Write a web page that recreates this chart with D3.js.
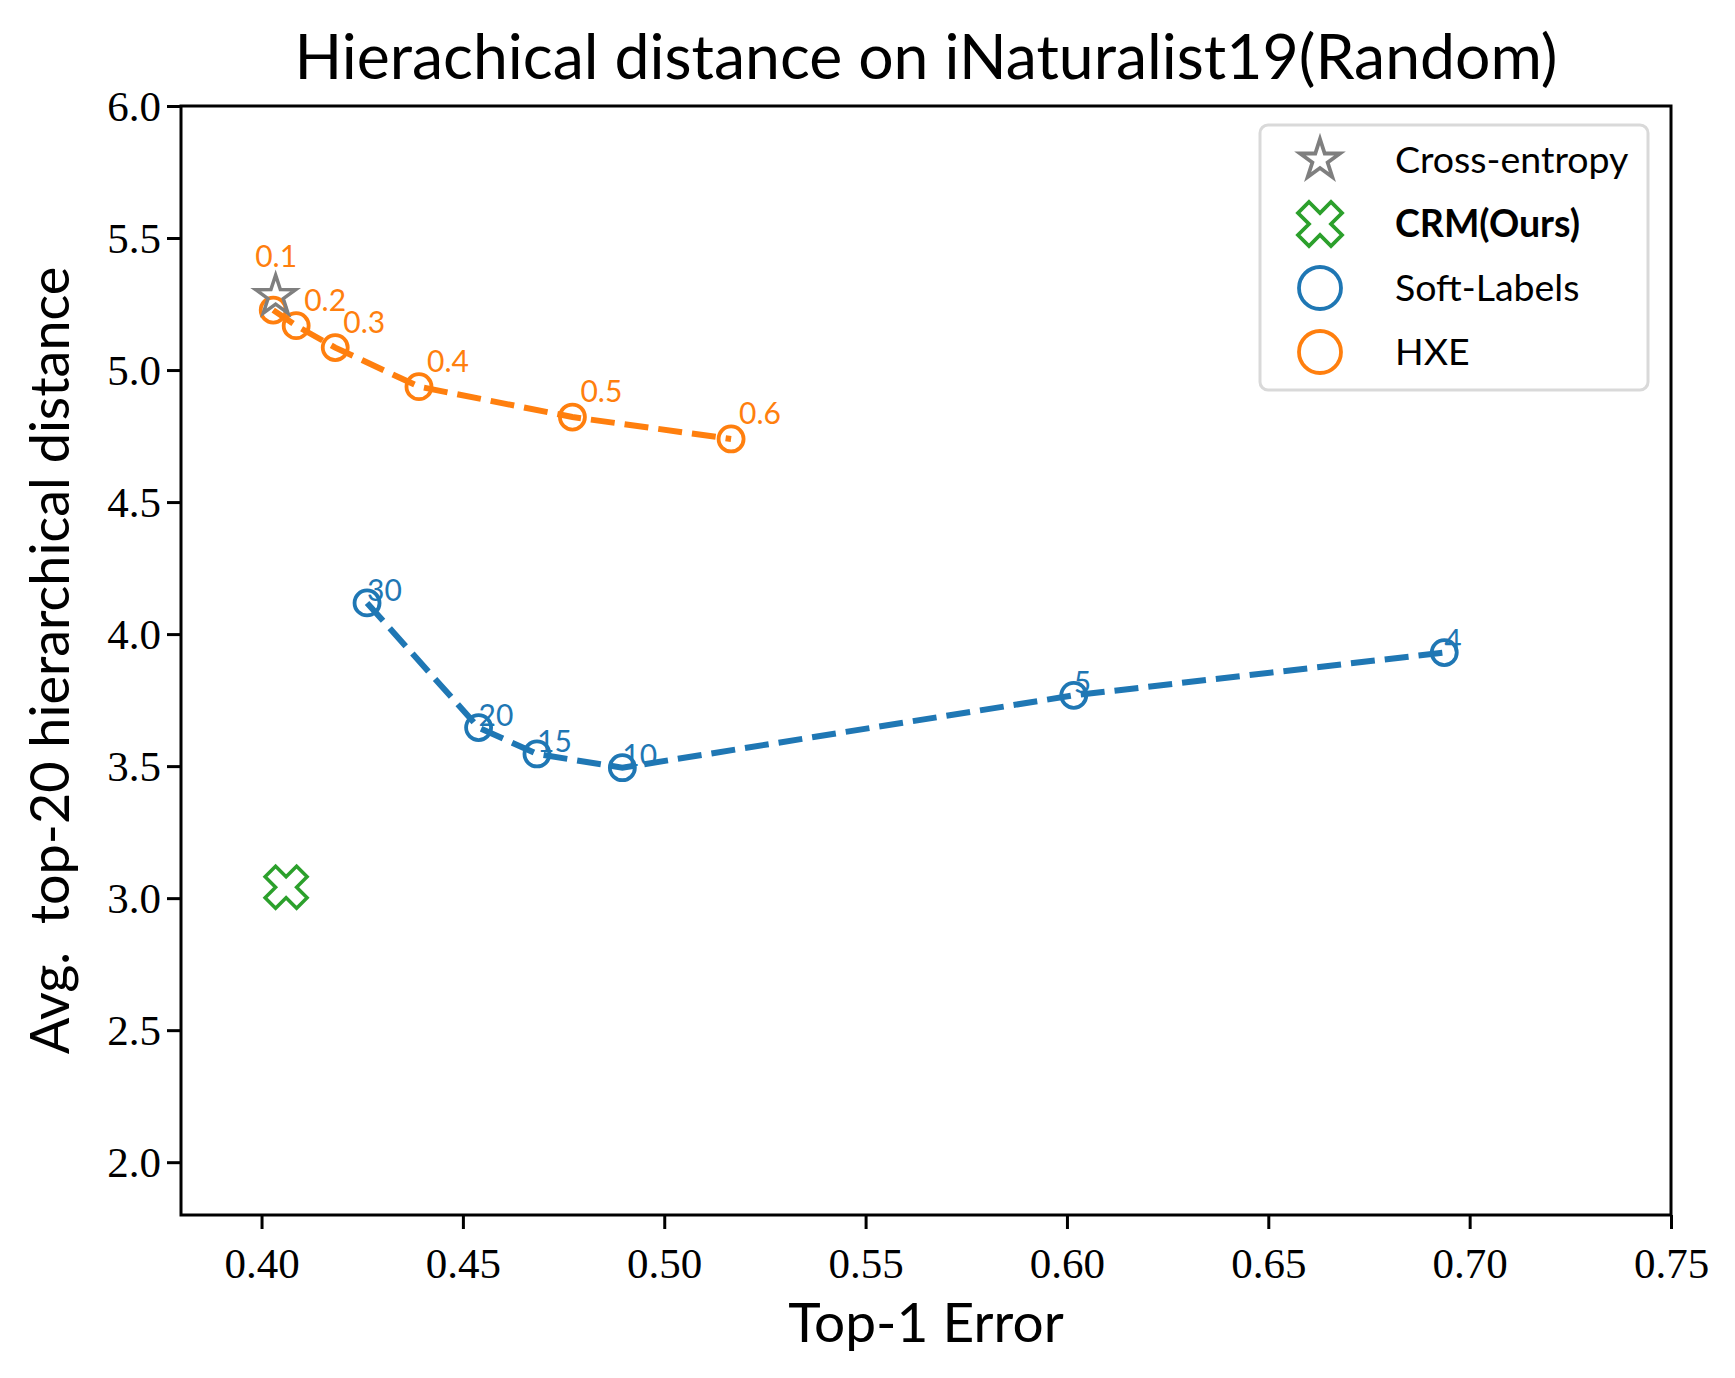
<!DOCTYPE html>
<html>
<head>
<meta charset="utf-8">
<style>
  body { margin: 0; background: #fff; }
  text { font-family: Lato, "Open Sans", sans-serif; }
  .tick text { font-family: "Liberation Serif", "DejaVu Serif", serif; }
</style>
</head>
<body>
<script src="https://d3js.org/d3.v7.min.js"></script>
<script>
// data
var ceX = [0.4035], ceY = [5.28];
var crmX = [0.4061], crmY = [3.041];

var softK = ["30", "20", "15", "10", "5", "4"];
var softX = [0.4262, 0.4539, 0.4684, 0.4896, 0.6017, 0.6937];
var softY = [4.118, 3.646, 3.546, 3.494, 3.768, 3.930];

var hxeK = ["0.1", "0.2", "0.3", "0.4", "0.5", "0.6"];
var hxeX = [0.4029, 0.4086, 0.4183, 0.4391, 0.4772, 0.5166];
var hxeY = [5.227, 5.168, 5.085, 4.937, 4.822, 4.739];

var xTicks = [0.40, 0.45, 0.50, 0.55, 0.60, 0.65, 0.70, 0.75];
var yTicks = [2.0, 2.5, 3.0, 3.5, 4.0, 4.5, 5.0, 5.5, 6.0];

var W = 1735, H = 1378;
var pL = 181, pR = 1671, pT = 106, pB = 1215;

var blue = "#1f77b4", orange = "#ff7f0e", green = "#2ca02c", gray = "#7f7f7f";

var svg = d3.select("body").append("svg").attr("width", W).attr("height", H);

var x = d3.scaleLinear().domain([0.38, 0.75]).range([pL, pR]);
var y = d3.scaleLinear().domain([1.8, 6.0]).range([pB, pT]);

// custom marker shapes (size = outer radius here)
var starType = {
  draw: function(ctx, r) {
    var ri = r * 0.382;
    for (var i = 0; i < 10; i++) {
      var a = -Math.PI / 2 + i * Math.PI / 5, rr = i % 2 ? ri : r;
      var px = rr * Math.cos(a), py = rr * Math.sin(a);
      if (i === 0) ctx.moveTo(px, py); else ctx.lineTo(px, py);
    }
    ctx.closePath();
  }
};
var xType = {
  draw: function(ctx, s) {
    var pts = [[0.25,0],[0.5,0.25],[0.75,0],[1,0.25],[0.75,0.5],[1,0.75],
               [0.75,1],[0.5,0.75],[0.25,1],[0,0.75],[0.25,0.5],[0,0.25]];
    pts.forEach(function(p, i) {
      var px = (p[0] - 0.5) * s, py = (p[1] - 0.5) * s;
      if (i === 0) ctx.moveTo(px, py); else ctx.lineTo(px, py);
    });
    ctx.closePath();
  }
};
var circType = {
  draw: function(ctx, r) { ctx.moveTo(r, 0); ctx.arc(0, 0, r, 0, 2 * Math.PI); }
};

// axes
var xAxis = d3.axisBottom(x).tickValues(xTicks).tickFormat(d3.format(".2f")).tickSizeOuter(0).tickSize(14).tickPadding(12);
var yAxis = d3.axisLeft(y).tickValues(yTicks).tickFormat(d3.format(".1f")).tickSizeOuter(0).tickSize(14).tickPadding(6);

var gx = svg.append("g").attr("transform", "translate(0," + pB + ")").call(xAxis);
var gy = svg.append("g").attr("transform", "translate(" + pL + ",0)").call(yAxis);
[gx, gy].forEach(function(g) {
  g.select(".domain").remove();
  g.selectAll(".tick line").attr("stroke", "#000").attr("stroke-width", 3);
  g.selectAll(".tick text").attr("fill", "#000").attr("font-size", 43);
});
gx.selectAll(".tick text").attr("dy", "0.85em");
gy.selectAll(".tick text").attr("dy", "0.34em");

svg.append("rect").attr("x", pL).attr("y", pT)
  .attr("width", pR - pL).attr("height", pB - pT)
  .attr("fill", "none").attr("stroke", "#000").attr("stroke-width", 3);

// lines
var line = d3.line().x(function(d) { return x(d[0]); }).y(function(d) { return y(d[1]); });
var series = [
  { k: softK, xs: softX, ys: softY, c: blue, dx: 0, dy: -2 },
  { k: hxeK, xs: hxeX, ys: hxeY, c: orange, dx: 8, dy: -15 }
];
series.forEach(function(s) {
  var pts = s.xs.map(function(v, i) { return [v, s.ys[i]]; });
  svg.append("path").attr("d", line(pts)).attr("fill", "none")
    .attr("stroke", s.c).attr("stroke-width", 6).attr("stroke-dasharray", "24,10");
  svg.append("g").selectAll("path").data(pts).enter().append("path")
    .attr("d", d3.symbol().type(circType).size(12.5))
    .attr("transform", function(d) { return "translate(" + x(d[0]) + "," + y(d[1]) + ")"; })
    .attr("fill", "none").attr("stroke", s.c).attr("stroke-width", 3.8);
  svg.append("g").selectAll("text").data(pts).enter().append("text")
    .attr("x", function(d, i) { return x(d[0]) + (s.c === orange && i === 0 ? -18 : s.dx); })
    .attr("y", function(d, i) { return y(d[1]) + (s.c === orange && i === 0 ? -43 : s.dy); })
    .attr("fill", s.c).attr("font-size", 30)
    .text(function(d, i) { return s.k[i]; });
});

// single markers
svg.append("path").datum([ceX[0], ceY[0]])
  .attr("d", d3.symbol().type(starType).size(21))
  .attr("transform", function(d) { return "translate(" + x(d[0]) + "," + y(d[1]) + ")"; })
  .attr("fill", "none").attr("stroke", gray).attr("stroke-width", 3.5).attr("stroke-linejoin", "miter");
svg.append("path").datum([crmX[0], crmY[0]])
  .attr("d", d3.symbol().type(xType).size(42))
  .attr("transform", function(d) { return "translate(" + x(d[0]) + "," + y(d[1]) + ")"; })
  .attr("fill", "none").attr("stroke", green).attr("stroke-width", 3.5);

// legend
var lg = svg.append("g");
lg.append("rect").attr("x", 1260).attr("y", 125).attr("width", 388).attr("height", 265)
  .attr("rx", 8).attr("fill", "#fff").attr("fill-opacity", 0.8)
  .attr("stroke", "#d9d9d9").attr("stroke-width", 3);
var entries = [
  { t: "Cross-entropy", type: starType, s: 21, c: gray, b: false },
  { t: "CRM(Ours)", type: xType, s: 44, c: green, b: true },
  { t: "Soft-Labels", type: circType, s: 21, c: blue, b: false },
  { t: "HXE", type: circType, s: 21, c: orange, b: false }
];
entries.forEach(function(e, i) {
  var cy = 160 + i * 64;
  lg.append("path").attr("d", d3.symbol().type(e.type).size(e.s))
    .attr("transform", "translate(1320," + cy + ")")
    .attr("fill", "none").attr("stroke", e.c).attr("stroke-width", 3.8);
  lg.append("text").attr("x", 1395).attr("y", cy + 13).attr("font-size", 37.5)
    .attr("font-weight", e.b ? "bold" : "normal").attr("fill", "#000").text(e.t);
});

// titles
svg.append("text").attr("x", (pL + pR) / 2).attr("y", 79).attr("text-anchor", "middle")
  .attr("font-size", 62.5).attr("fill", "#000").text("Hierachical distance on iNaturalist19(Random)");
svg.append("text").attr("x", (pL + pR) / 2).attr("y", 1342).attr("text-anchor", "middle")
  .attr("font-size", 55).attr("fill", "#000").text("Top-1 Error");
svg.append("text").attr("transform", "translate(69," + (pT + pB) / 2 + ") rotate(-90)")
  .attr("text-anchor", "middle").attr("font-size", 54).attr("fill", "#000")
  .attr("xml:space", "preserve").text("Avg.  top-20 hierarchical distance");
</script>
</body>
</html>
